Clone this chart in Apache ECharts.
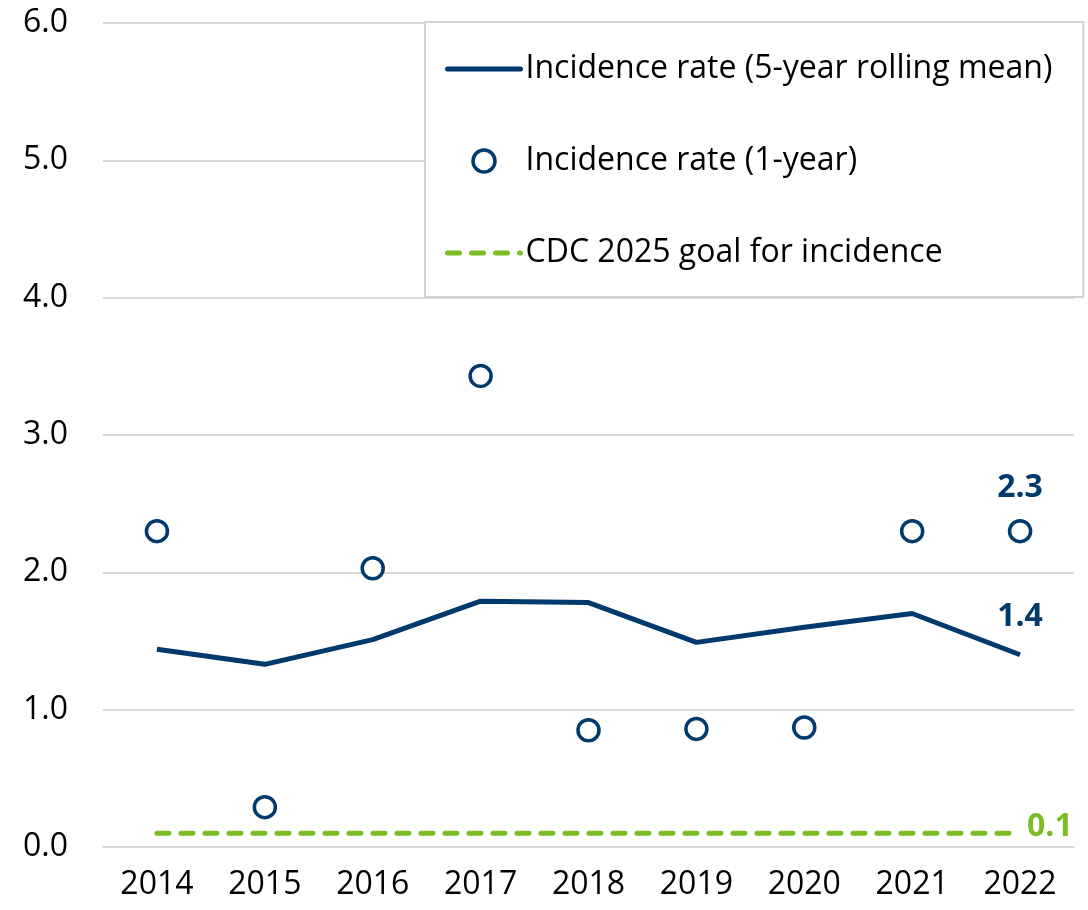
<!DOCTYPE html>
<html>
<head>
<meta charset="utf-8">
<script src="https://cdn.jsdelivr.net/npm/echarts@6/dist/echarts.min.js"></script>
<style>
  html, body { margin: 0; padding: 0; background: #fff; }
  #chart { width: 1088px; height: 910px; }
</style>
</head>
<body>
<div id="chart"></div>
<script>
// data
var years = ['2014', '2015', '2016', '2017', '2018', '2019', '2020', '2021', '2022'];
var rollingMean = [1.44, 1.33, 1.51, 1.79, 1.78, 1.49, 1.60, 1.70, 1.40];
var oneYear = [2.30, 0.29, 2.03, 3.43, 0.85, 0.86, 0.87, 2.30, 2.30];
var goal = [0.1, 0.1, 0.1, 0.1, 0.1, 0.1, 0.1, 0.1, 0.1];
var yTicks = [0, 1, 2, 3, 4, 5, 6];
var names = ['Incidence rate (5-year rolling mean)', 'Incidence rate (1-year)', 'CDC 2025 goal for incidence'];

var navy = '#00396b';
var green = '#7abd27';
var font = '"Open Sans", Lato, sans-serif';
var fs = 32;
var last = years.length - 1;
var dash = [12, 12];

var chart = echarts.init(document.getElementById('chart'));

function fmt(p) { return p.value.toFixed(1); }

var option = {
  animation: false,
  backgroundColor: '#fff',
  grid: { left: 103, right: 14, top: 23, bottom: 63 },
  legend: {
    orient: 'vertical',
    left: 425,
    top: 22,
    padding: [25, 31, 22, 20],
    itemGap: 48,
    itemWidth: 73,
    itemHeight: 22,
    backgroundColor: '#fff',
    borderColor: '#d3d3d3',
    borderWidth: 2,
    textStyle: { fontFamily: font, fontSize: fs, color: '#000', lineHeight: 44 },
    data: [
      { name: names[0], itemStyle: { opacity: 0 }, lineStyle: { width: 5, cap: 'round' } },
      { name: names[1], itemStyle: { borderWidth: 3.5 } },
      { name: names[2], itemStyle: { opacity: 0 }, lineStyle: { width: 5, type: dash, cap: 'round' } }
    ]
  },
  xAxis: {
    type: 'category',
    data: years,
    axisTick: { show: false },
    axisLine: { lineStyle: { color: '#d9d9d9', width: 2 } },
    axisLabel: { color: '#000', fontFamily: font, fontSize: fs, margin: 22 }
  },
  yAxis: {
    type: 'value',
    min: yTicks[0],
    max: yTicks[yTicks.length - 1],
    interval: 1,
    axisLine: { show: false },
    axisTick: { show: false },
    splitLine: { lineStyle: { color: '#d9d9d9', width: 2 } },
    axisLabel: {
      color: '#000', fontFamily: font, fontSize: fs, margin: 35,
      formatter: function (v) { return v.toFixed(1); }
    }
  },
  series: [
    {
      name: names[0],
      type: 'line',
      data: rollingMean,
      symbol: 'none',
      itemStyle: { color: navy },
      lineStyle: { color: navy, width: 5 },
      endLabel: {
        show: true, formatter: fmt, distance: 0, align: 'center', verticalAlign: 'middle',
        offset: [0, -38], color: navy, fontFamily: font, fontWeight: 'bold', fontSize: fs
      },
      z: 3
    },
    {
      name: names[1],
      type: 'scatter',
      data: oneYear,
      symbol: 'circle',
      symbolSize: 21,
      itemStyle: { color: '#fff', borderColor: navy, borderWidth: 3.5, opacity: 1 },
      label: {
        show: true, position: 'inside', offset: [0, -43],
        color: navy, fontFamily: font, fontWeight: 'bold', fontSize: fs,
        formatter: function (p) { return p.dataIndex === last ? fmt(p) : ''; }
      },
      z: 4
    },
    {
      name: names[2],
      type: 'line',
      data: goal,
      symbol: 'none',
      itemStyle: { color: green },
      lineStyle: { color: green, width: 5, type: dash, cap: 'round' },
      endLabel: {
        show: true, formatter: fmt, distance: 7, align: 'left', verticalAlign: 'middle',
        offset: [0, -6], color: green, fontFamily: font, fontWeight: 'bold', fontSize: fs
      },
      z: 2
    }
  ]
};

chart.setOption(option);
</script>
</body>
</html>
